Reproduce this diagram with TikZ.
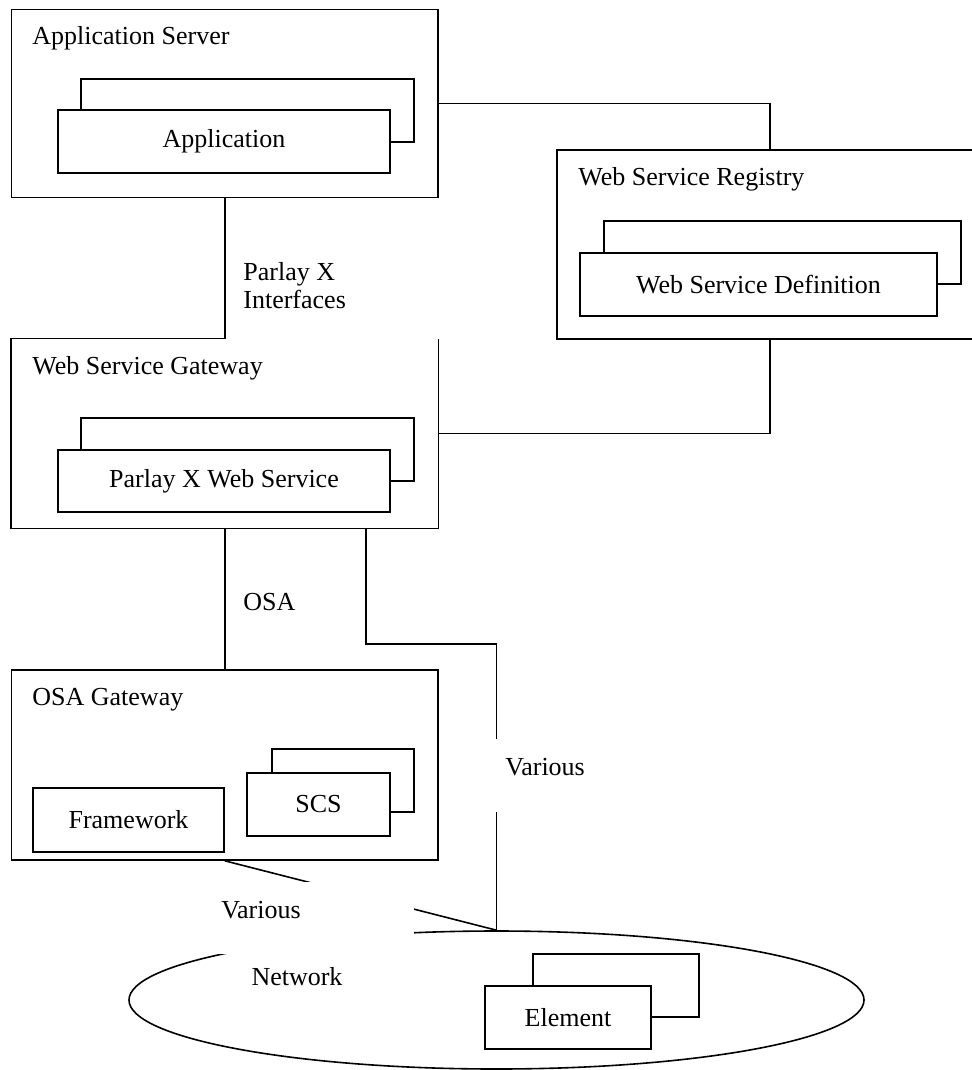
\documentclass[tikz,border=0pt]{standalone}
\usepackage{fontspec}
\setmainfont{Liberation Serif}
\usetikzlibrary{fit,shapes.geometric}
\begin{document}
\begin{tikzpicture}[x=0.5pt,y=-0.5pt,
  every node/.style={font=\fontsize{13}{14}\selectfont},
  box/.style={draw, line width=0.8pt, fill=white, inner sep=0pt},
  frame/.style={inner sep=0pt},
  lnk/.style={draw, line width=0.8pt},
  ttl/.style={anchor=base west, inner sep=0pt},
  lbl/.style={inner sep=0pt},
  mask/.style={fill=white}
]
\useasboundingbox (0,0) rectangle (971,1070);

% Application Server
\node[box, fit={(11.5,9.5)(438,197.5)}] (appsrv) {};
\node[ttl] (appsrvt) at (32,45) {Application Server};
\node[box, fit={(81,79)(414,142)}] (appb) {};
\node[box, fit={(58,110)(390,173)}] (app) {};
\node[lbl] (appt) at (app.center) {Application};

% Web Service Registry
\node[box, fit={(557,150)(983,339)}] (reg) {};
\node[ttl] (regt) at (578,185) {Web Service Registry};
\node[box, fit={(604,221)(961,284)}] (defb) {};
\node[box, fit={(580,253)(937,316)}] (def) {};
\node[lbl] (deft) at (def.center) {Web Service Definition};

% Web Service Gateway (top edge partly hidden by label)
\node[frame, fit={(11.5,339)(438,528)}] (wsg) {};
\draw[lnk] (wsg.north) -| (wsg.south west) -| (wsg.north east);
\node[ttl] (wsgt) at (32,374) {Web Service Gateway};
\node[box, fit={(81,418)(414,481)}] (pxb) {};
\node[box, fit={(58,450)(390,512)}] (px) {};
\node[lbl] (pxt) at (px.center) {Parlay X Web Service};

% OSA Gateway
\node[box, fit={(11.5,670)(438,860)}] (osa) {};
\node[ttl] (osat) at (32,705) {OSA Gateway};
\node[box, fit={(33,788)(224,852)}] (fw) {};
\node[lbl] (fwt) at (fw.center) {Framework};
\node[box, fit={(272,749)(414,812)}] (scsb) {};
\node[box, fit={(247,773)(390,836)}] (scs) {};
\node[lbl] (scst) at (scs.center) {SCS};

% Network
\node[draw, line width=0.8pt, ellipse, minimum width=367.5pt, minimum height=69pt, inner sep=0pt] (net) at (496.5,1000) {};
\node[box, fit={(533,954)(699,1017)}] (elb) {};
\node[box, fit={(485,986)(651,1049)}] (el) {};
\node[lbl] (elt) at (el.center) {Element};
\node[lbl] (nett) at (297,977) {Network};

% connectors
\coordinate (wsgout) at (366,528);
\draw[lnk] (appsrv.south) -- (wsg.north);
\draw[lnk] (wsg.south) -- (osa.north);
\draw[lnk] (appsrv.east) -| (reg.north);
\draw[lnk] (wsg.east) -| (reg.south);
\draw[lnk] (wsgout) -- (366,644) -| (net.north);
\draw[lnk] (osa.south) -- (net.north);

% labels
\node[ttl, align=left] (pxi) at (243,308) {Parlay X\\Interfaces};
\node[ttl] (osal) at (243,610) {OSA};
\fill[mask] (488,739) rectangle (600,812);
\node[ttl] (var1) at (505,775) {Various};
\fill[mask] (200,882) rectangle (414,954);
\node[lbl, anchor=base] (var2) at (261,918) {Various};
\end{tikzpicture}
\end{document}
